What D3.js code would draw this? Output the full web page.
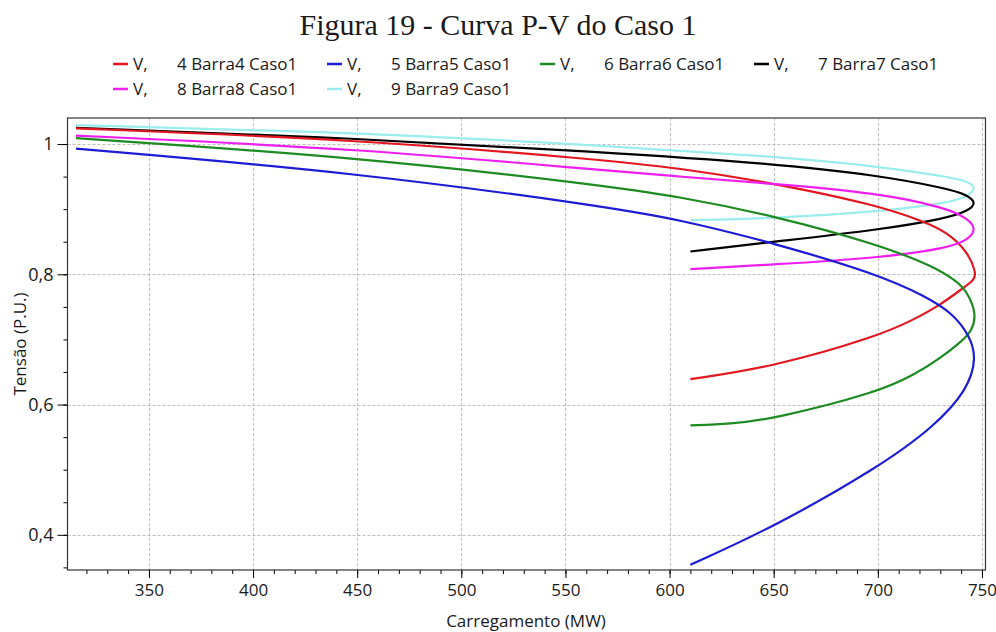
<!DOCTYPE html>
<html>
<head>
<meta charset="utf-8">
<script src="https://cdn.jsdelivr.net/npm/d3@7"></script>
<style>
  body { margin: 0; background: #fff; }
  text { font-family: "Open Sans", sans-serif; fill: #1a1a1a; }
</style>
</head>
<body>
<div class="chart"></div>
<script>
// carregamento (MW) , tensao (p.u.), upper branch then lower branch
var barra4 = [[315,1.024],[450,1.007],[567,0.976],[605,0.963],[650,0.940],[700,0.906],[722,0.881],[733,0.865],[743,0.836],[747.5,0.800],[746,0.791],[741,0.779],[730,0.753],[717,0.730],[700,0.705],[650,0.658],[610,0.639]];
var barra5 = [[315,0.993],[450,0.956],[567,0.905],[605,0.884],[650,0.848],[700,0.800],[723,0.766],[736,0.740],[744,0.706],[747.5,0.672],[743,0.622],[727,0.566],[700,0.503],[650,0.412],[610,0.354]];
var barra6 = [[315,1.009],[450,0.980],[567,0.937],[605,0.919],[650,0.890],[700,0.846],[727,0.812],[738,0.789],[743,0.773],[747.5,0.738],[745,0.713],[741,0.699],[730,0.671],[717,0.645],[700,0.619],[650,0.578],[629,0.570],[610,0.568]];
var barra7 = [[315,1.025],[450,1.009],[567,0.988],[650,0.970],[700,0.952],[733,0.932],[743,0.922],[747.5,0.909],[743,0.897],[733,0.886],[700,0.868],[650,0.850],[610,0.835]];
var barra8 = [[315,1.013],[450,0.993],[567,0.960],[605,0.950],[650,0.939],[700,0.925],[733,0.902],[743,0.886],[747.5,0.869],[743,0.852],[733,0.840],[700,0.825],[650,0.815],[610,0.808]];
var barra9 = [[315,1.029],[450,1.018],[567,0.998],[650,0.981],[700,0.966],[733,0.950],[743,0.943],[747.5,0.933],[743,0.919],[733,0.909],[700,0.896],[650,0.886],[610,0.883]];

var seriesNames = ["4 Barra4 Caso1", "5 Barra5 Caso1", "6 Barra6 Caso1", "7 Barra7 Caso1", "8 Barra8 Caso1", "9 Barra9 Caso1"];
var seriesData = [barra4, barra5, barra6, barra7, barra8, barra9];
var seriesColors = ["#e3171f", "#1c1cd4", "#1e8a22", "#000000", "#ee1fee", "#9becec"];

var xMajor = [350, 400, 450, 500, 550, 600, 650, 700, 750];
var yMajor = [0.4, 0.6, 0.8, 1];
var yTickLabels = ["0,4", "0,6", "0,8", "1"];

var width = 996, height = 632;
var plot = {left: 67.5, right: 985.5, top: 118, bottom: 570};

var svg = d3.select(".chart").append("svg")
    .attr("width", width)
    .attr("height", height);

var x = d3.scaleLinear().domain([310.9, 751.7]).range([plot.left, plot.right]);
var y = d3.scaleLinear().domain([0.346, 1.040]).range([plot.bottom, plot.top]);

// title
svg.append("text")
    .attr("x", 498)
    .attr("y", 35)
    .attr("text-anchor", "middle")
    .style("font-family", "'Liberation Serif', 'Times New Roman', serif")
    .attr("font-size", 30)
    .text("Figura 19 - Curva P-V do Caso 1");

// legend
var cols = [113, 327, 540, 754];
seriesNames.forEach(function(name, i) {
    var lx = cols[i % 4], ly = i < 4 ? 64 : 89;
    var g = svg.append("g").attr("transform", "translate(" + lx + "," + ly + ")");
    g.append("line")
        .attr("x1", 0).attr("x2", 15)
        .attr("y1", 0).attr("y2", 0)
        .attr("stroke", seriesColors[i])
        .attr("stroke-width", 2.5);
    g.append("text").attr("x", 20).attr("y", 6).attr("font-size", 17).text("V,");
    g.append("text").attr("x", 64).attr("y", 6).attr("font-size", 17).text(name);
});

// grid
var grid = svg.append("g").attr("stroke", "#bdbdbd").attr("stroke-dasharray", "3,2").attr("stroke-width", 1);
xMajor.forEach(function(v) {
    grid.append("line")
        .attr("x1", Math.round(x(v)) + 0.5).attr("x2", Math.round(x(v)) + 0.5)
        .attr("y1", plot.top).attr("y2", plot.bottom);
});
yMajor.forEach(function(v) {
    grid.append("line")
        .attr("x1", plot.left).attr("x2", plot.right)
        .attr("y1", Math.round(y(v)) + 0.5).attr("y2", Math.round(y(v)) + 0.5);
});

// curves
var line = d3.line()
    .x(function(d) { return x(d[0]); })
    .y(function(d) { return y(d[1]); })
    .curve(d3.curveBasis);

var order = [5, 3, 0, 4, 2, 1];
order.forEach(function(i) {
    svg.append("path")
        .datum(seriesData[i])
        .attr("d", line)
        .attr("fill", "none")
        .attr("stroke", seriesColors[i])
        .attr("stroke-width", 2.2);
});

// axes
var xMinor = d3.range(320, 751, 10);
var yMinor = d3.range(0.35, 1.001, 0.05);

svg.append("g")
    .attr("transform", "translate(0," + plot.bottom + ")")
    .call(d3.axisBottom(x).tickValues(xMinor).tickSize(4).tickFormat(""))
    .call(function(g) { g.select(".domain").remove(); });

svg.append("g")
    .attr("transform", "translate(0," + plot.bottom + ")")
    .call(d3.axisBottom(x).tickValues(xMajor).tickSize(8).tickPadding(6))
    .call(function(g) {
        g.select(".domain").remove();
        g.selectAll("text").attr("font-size", 17).style("font-family", "'Open Sans', sans-serif").attr("fill", "#1a1a1a");
    });

svg.append("g")
    .attr("transform", "translate(" + plot.left + ",0)")
    .call(d3.axisLeft(y).tickValues(yMinor).tickSize(4).tickFormat(""))
    .call(function(g) { g.select(".domain").remove(); });

svg.append("g")
    .attr("transform", "translate(" + plot.left + ",0)")
    .call(d3.axisLeft(y).tickValues(yMajor).tickSize(10).tickPadding(4)
        .tickFormat(function(d, i) { return yTickLabels[i]; }))
    .call(function(g) {
        g.select(".domain").remove();
        g.selectAll("text").attr("font-size", 18).style("font-family", "'Open Sans', sans-serif").attr("fill", "#1a1a1a");
    });

// frame
svg.append("rect")
    .attr("x", plot.left).attr("y", plot.top)
    .attr("width", plot.right - plot.left)
    .attr("height", plot.bottom - plot.top)
    .attr("fill", "none")
    .attr("stroke", "#333")
    .attr("stroke-width", 1.2);

// axis titles
svg.append("text")
    .attr("x", 526)
    .attr("y", 627)
    .attr("text-anchor", "middle")
    .attr("font-size", 17)
    .text("Carregamento (MW)");

svg.append("text")
    .attr("transform", "translate(26,344) rotate(-90)")
    .attr("text-anchor", "middle")
    .attr("font-size", 17)
    .text("Tensão (P.U.)");
</script>
</body>
</html>
